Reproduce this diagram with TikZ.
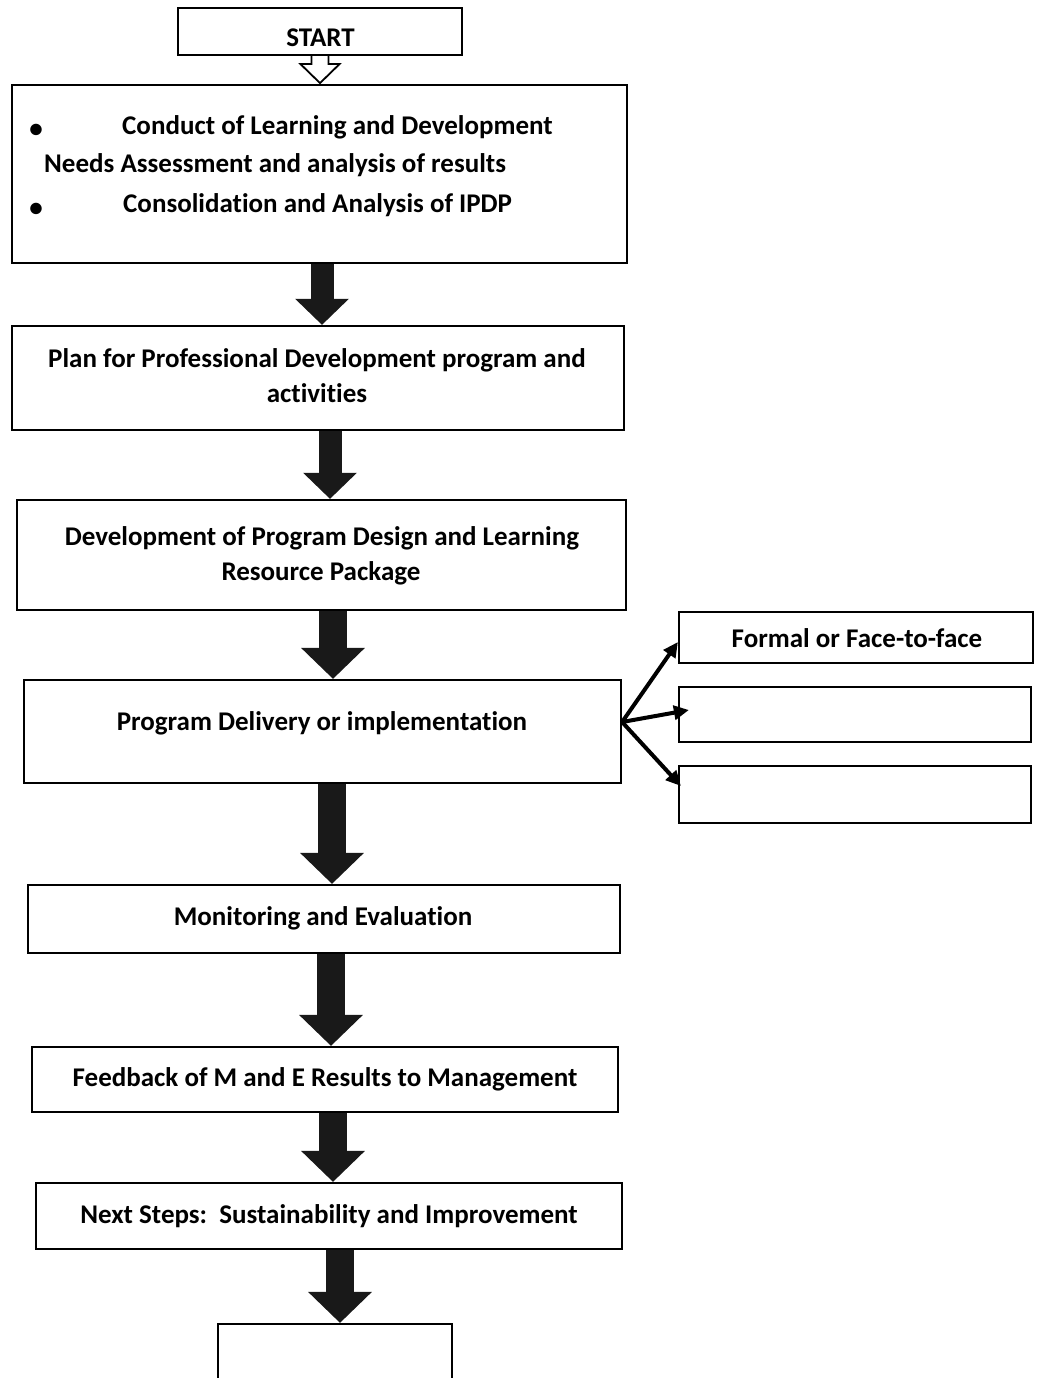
\documentclass[tikz,border=0pt]{standalone}
\usepackage{fontspec}
\setmainfont{Carlito}[Ligatures={NoCommon}]
\usetikzlibrary{arrows.meta,calc}
\begin{document}
\begin{tikzpicture}[x=1pt,y=-1pt,
  box/.style={draw=black, line width=2.2pt, rectangle, inner sep=0pt},
  txt/.style={inner sep=0pt, anchor=base, font=\fontsize{27}{38}\selectfont\bfseries},
  txtl/.style={txt, anchor=base west},
  blockarrow/.style={line width=28pt, draw=black!90, -{Triangle[width=62pt,length=31pt]}},
  blockarrowthin/.style={line width=23pt, draw=black!90, -{Triangle[width=52pt,length=26pt]}},
  fanarrow/.style={line width=4pt, -{Triangle[width=14pt,length=15pt]}}
]
\clip (0,0) rectangle (1039,1378);
\fill[white] (0,0) rectangle (1039,1378);

% boxes
\node[box, minimum width=284pt, minimum height=47pt] (start) at (320,31.5) {};
\node[box, minimum width=615pt, minimum height=178pt] (b1) at (319.5,174) {};
\node[box, minimum width=612pt, minimum height=104pt] (b2) at (318,378) {};
\node[box, minimum width=609pt, minimum height=110pt] (b3) at (321.5,555) {};
\node[box, minimum width=597pt, minimum height=103pt] (b4) at (322.5,731.5) {};
\node[box, minimum width=354pt, minimum height=51pt] (r1) at (856,637.5) {};
\node[box, minimum width=352pt, minimum height=55pt] (r2) at (855,714.5) {};
\node[box, minimum width=352pt, minimum height=57pt] (r3) at (855,794.5) {};
\node[box, minimum width=592pt, minimum height=68pt] (b5) at (324,919) {};
\node[box, minimum width=586pt, minimum height=65pt] (b6) at (325,1079.5) {};
\node[box, minimum width=586pt, minimum height=66pt] (b7) at (329,1216) {};
\node[box, minimum width=234pt, minimum height=76pt] (b8) at (335,1362) {};

% texts
\node[txt] (tstart) at (320.5,47) {START};
\node[txt] (bul1) at (36,138) {•};
\node[txtl] (t1a) at (122,135) {Conduct of Learning and Development};
\node[txtl] (t1b) at (44,172) {Needs Assessment and analysis of results};
\node[txt] (bul2) at (36,216) {•};
\node[txtl] (t1c) at (123,212) {Consolidation and Analysis of IPDP};
\node[txt] (t2a) at (317,367) {Plan for Professional Development program and};
\node[txt] (t2b) at (317,402) {activities};
\node[txt] (t3a) at (322,545) {Development of Program Design and Learning};
\node[txt] (t3b) at (321,580) {Resource Package};
\node[txt] (t4) at (322,730) {Program Delivery or implementation};
\node[txt] (tr1) at (857,647) {Formal or Face-to-face};
\node[txt] (t5) at (323,925) {Monitoring and Evaluation};
\node[txt] (t6) at (325,1086) {Feedback of M and E Results to Management};
\node[txt] (t7) at (329,1223) {Next Steps:\ \ Sustainability and Improvement};

% hollow arrow below START
\draw[line width=1.8pt, fill=white] ([xshift=-8.5pt]start.south) -- ++(0,8) -- ++(-11,0) -- ++(19.5,19) -- ++(19.5,-19) -- ++(-11,0) -- ++(0,-8);

% block arrow x positions
\coordinate (ax1) at (322,0);
\coordinate (ax2) at (330,0);
\coordinate (ax3) at (333,0);
\coordinate (ax4) at (332,0);
\coordinate (ax5) at (331,0);
\coordinate (ax6) at (333,0);
\coordinate (ax7) at (340,0);

\draw[blockarrowthin] (b1.south -| ax1) -- (b2.north -| ax1);
\draw[blockarrowthin] (b2.south -| ax2) -- (b3.north -| ax2);
\draw[blockarrow] (b3.south -| ax3) -- (b4.north -| ax3);
\draw[blockarrow] (b4.south -| ax4) -- (b5.north -| ax4);
\draw[blockarrow] (b5.south -| ax5) -- (b6.north -| ax5);
\draw[blockarrow] (b6.south -| ax6) -- (b7.north -| ax6);
\draw[blockarrow] (b7.south -| ax7) -- (b8.north -| ax7);

% fan arrows
\coordinate (fan) at ($(b4.east)+(0,-9.5)$);
\coordinate (e1) at ($(r1.west)+(0,4.5)$);
\coordinate (e2) at ($(r2.west)+(11,-4.5)$);
\coordinate (e3) at ($(r3.west)+(3,-8.5)$);
\draw[fanarrow] (fan) -- (e1);
\draw[fanarrow] (fan) -- (e2);
\draw[fanarrow] (fan) -- (e3);
\end{tikzpicture}
\end{document}
